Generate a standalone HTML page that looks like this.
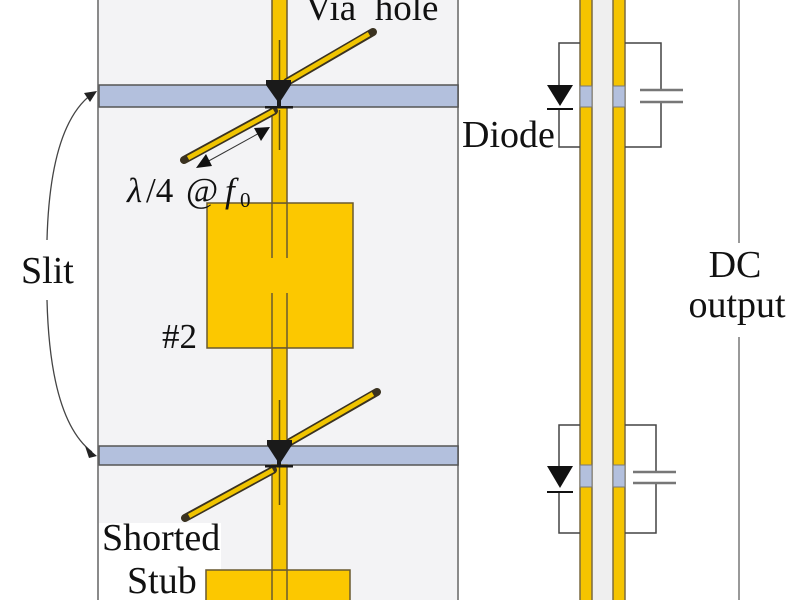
<!DOCTYPE html>
<html><head><meta charset="utf-8"><style>
html,body{margin:0;padding:0;background:#fff;}
svg{display:block;}
text{font-family:"Liberation Serif",serif;fill:#111;}
</style></head><body>
<svg width="800" height="600" viewBox="0 0 800 600" xmlns="http://www.w3.org/2000/svg">
<rect x="0" y="0" width="800" height="600" fill="#fff"/>
<!-- board -->
<rect x="98" y="-2" width="360" height="604" fill="#f3f3f5" stroke="#8a8a8a" stroke-width="2"/>
<!-- white bg behind Shorted Stub -->
<rect x="99" y="523" width="122" height="46" fill="#fff"/>
<rect x="99" y="569" width="106" height="31" fill="#fff"/>
<!-- slit bands -->
<rect x="99" y="85" width="359" height="22" fill="#b3c0dd" stroke="#555" stroke-width="1.5"/>
<rect x="99" y="446" width="359" height="19" fill="#b3c0dd" stroke="#555" stroke-width="1.5"/>

<!-- patches -->
<rect x="207" y="203" width="146" height="145" fill="#fcc800" stroke="#6a5a30" stroke-width="1.5"/>
<rect x="206" y="570" width="144" height="40" fill="#fcc800" stroke="#6a5a30" stroke-width="1.5"/>

<!-- feedline segments -->
<g fill="#f5c400" stroke="#6a5a30" stroke-width="1.5">
<rect x="272" y="-2" width="15" height="87"/>
<rect x="272" y="107" width="15" height="96"/>
<rect x="272" y="348" width="15" height="98"/>
<rect x="272" y="465" width="15" height="105"/>
</g>
<!-- feedline inside patches -->
<g stroke="#6a5a30" stroke-width="1.5">
<line x1="272" y1="203" x2="272" y2="258"/><line x1="287" y1="203" x2="287" y2="258"/>
<line x1="272" y1="293" x2="272" y2="348"/><line x1="287" y1="293" x2="287" y2="348"/>
<line x1="272" y1="570" x2="272" y2="600"/><line x1="287" y1="570" x2="287" y2="600"/>
</g>
<!-- inner thin lines -->
<g stroke="#5a4a10" stroke-width="1.5">
<line x1="279.5" y1="40" x2="279.5" y2="82"/>
<line x1="279.5" y1="110" x2="279.5" y2="150"/>
<line x1="279.5" y1="400" x2="279.5" y2="442"/>
<line x1="279.5" y1="467" x2="279.5" y2="505"/>
</g>

<!-- stubs -->
<g stroke-linecap="round">
<g stroke="#3a3220" stroke-width="8">
<line x1="287" y1="82" x2="373" y2="32"/>
<line x1="274" y1="111" x2="184" y2="160"/>
<line x1="290" y1="442" x2="377" y2="392"/>
<line x1="273" y1="470" x2="185" y2="518"/>
</g>
<g stroke="#f0c400" stroke-width="4.5" stroke-linecap="butt">
<line x1="287" y1="82" x2="369" y2="34"/>
<line x1="274" y1="111" x2="188" y2="158"/>
<line x1="290" y1="442" x2="373" y2="394"/>
<line x1="273" y1="470" x2="189" y2="516"/>
</g>
</g>

<!-- via holes -->
<g fill="#1a1a1a">
<path d="M266,80 L291,80 L291,85 L280,102 L278,102 L266,85 Z"/>
<rect x="277" y="100" width="4" height="7"/>
<rect x="265" y="106" width="28" height="2.5"/>
<path d="M267,440 L292,440 L292,445 L281,462 L278,462 L267,445 Z"/>
<rect x="277" y="460" width="4" height="6"/>
<rect x="265" y="465" width="28" height="2.5"/>
</g>

<!-- dimension arrow -->
<line x1="205" y1="163" x2="263" y2="131" stroke="#333" stroke-width="1"/>
<path d="M196,168 L212,166 L206,154 Z" fill="#111"/>
<path d="M270,127 L254,128 L261,141 Z" fill="#111"/>

<!-- slit arrows -->
<g fill="none" stroke="#444" stroke-width="1.3">
<path d="M47,240 Q50,125 92,94"/>
<path d="M47,300 Q50,420 92,452"/>
</g>
<path d="M97,91 L84,93 L90,102 Z" fill="#222"/>
<path d="M97,456 L85,446 L89,458 Z" fill="#222"/>

<!-- right circuit -->
<rect x="592" y="-2" width="20" height="604" fill="#efefef"/>
<g fill="#f5c400" stroke="#7a6a40" stroke-width="1.5">
<rect x="580" y="-2" width="12" height="604"/>
<rect x="613" y="-2" width="12" height="604"/>
</g>
<g fill="#b3c0dd" stroke="#777" stroke-width="1">
<rect x="580" y="86" width="12" height="21"/>
<rect x="613" y="86" width="12" height="21"/>
<rect x="580" y="465" width="12" height="22"/>
<rect x="613" y="465" width="12" height="22"/>
</g>
<g fill="none" stroke="#444" stroke-width="1.5">
<path d="M580,43 H559 V85 M559,108 V147 H580"/>
<path d="M625,43 H661 V90 M661,102 V147 H625"/>
<path d="M580,425 H559 V466 M559,491 V533 H580"/>
<path d="M625,425 H656 V472 M656,483 V533 H625"/>
</g>
<g stroke="#777" stroke-width="2.5">
<line x1="640" y1="90" x2="683" y2="90"/><line x1="640" y1="102" x2="683" y2="102"/>
<line x1="633" y1="472" x2="676" y2="472"/><line x1="633" y1="483" x2="676" y2="483"/>
</g>
<g fill="#111">
<path d="M547,85 L573,85 L560,106 Z"/>
<rect x="547" y="108" width="26" height="2"/>
<path d="M547,466 L573,466 L560,488 Z"/>
<rect x="547" y="491" width="26" height="2"/>
</g>

<!-- DC output line -->
<line x1="739" y1="-2" x2="739" y2="243" stroke="#999" stroke-width="2"/>
<line x1="739" y1="337" x2="739" y2="602" stroke="#999" stroke-width="2"/>

<!-- labels -->
<text x="305" y="20" font-size="37" xml:space="preserve">Via  hole</text>
<text x="127" y="202" font-size="35" font-style="italic">λ</text>
<text x="146" y="202" font-size="35">/4</text>
<text x="186" y="202" font-size="35">@</text>
<text x="225" y="202" font-size="35" font-style="italic">f</text>
<text x="240" y="207" font-size="21">0</text>
<text x="21" y="283" font-size="38">Slit</text>
<text x="162" y="348" font-size="35">#2</text>
<text x="462" y="147" font-size="38">Diode</text>
<text x="735" y="277" font-size="38" text-anchor="middle">DC</text>
<text x="737" y="317" font-size="38" text-anchor="middle">output</text>
<text x="102" y="550" font-size="38">Shorted</text>
<text x="127" y="593" font-size="38">Stub</text>
</svg>
</body></html>
